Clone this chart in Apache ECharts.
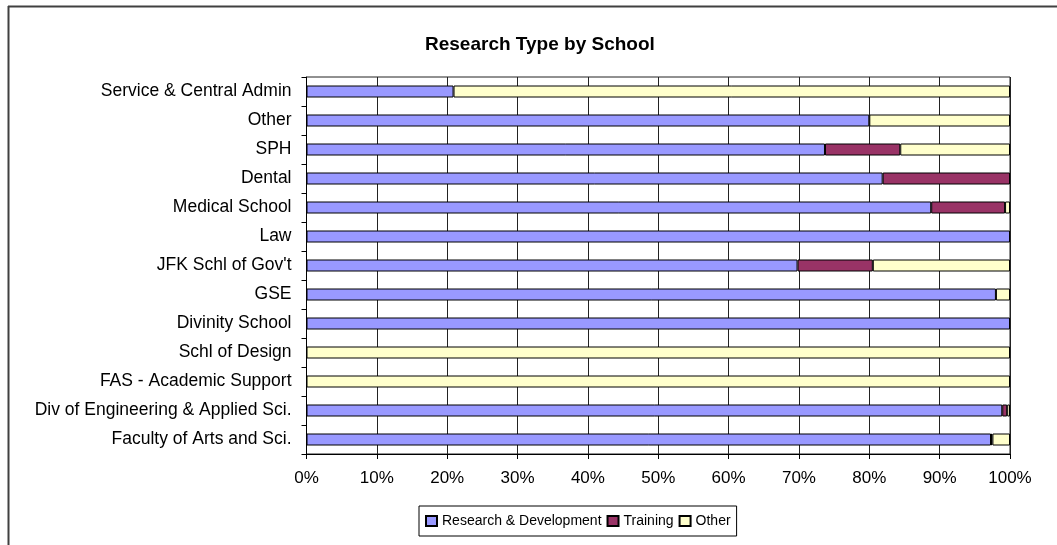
<!DOCTYPE html>
<html>
<head>
<meta charset="utf-8">
<script src="https://cdn.jsdelivr.net/npm/echarts@6/dist/echarts.min.js"></script>
<style>
html,body{margin:0;padding:0;background:#fff;}
#chart{width:1057px;height:545px;}
</style>
</head>
<body>
<div id="chart"></div>
<script>
// Categories listed bottom to top (ECharts category axis starts at the bottom)
const categories = [
  "Faculty of Arts and Sci.",
  "Div of Engineering & Applied Sci.",
  "FAS - Academic Support",
  "Schl of Design",
  "Divinity School",
  "GSE",
  "JFK Schl of Gov't",
  "Law",
  "Medical School",
  "Dental",
  "SPH",
  "Other",
  "Service & Central Admin"
];
const seriesNames = ["Research & Development", "Training", "Other"];
const researchDev = [97.3, 98.9, 0, 0, 100, 98.0, 69.8, 100, 88.8, 81.9, 73.7, 80.0, 20.9];
const training    = [0.2, 0.7, 0, 0, 0, 0, 10.7, 0, 10.5, 18.1, 10.7, 0, 0];
const other       = [2.5, 0.4, 100, 100, 0, 2.0, 19.5, 0, 0.7, 0, 15.6, 20.0, 79.1];
const xTicks = ["0%", "10%", "20%", "30%", "40%", "50%", "60%", "70%", "80%", "90%", "100%"];
const colors = ["#9999FF", "#993366", "#FFFFCC"];

const FONT = "Liberation Sans, Arial, sans-serif";
const chart = echarts.init(document.getElementById('chart'), null, {renderer: 'canvas'});

function mk(name, vals, color) {
  return {
    name: name,
    type: 'bar',
    stack: 'total',
    barWidth: 12,
    data: vals.map(v => v === 0 ? null : v),
    itemStyle: {color: color, borderColor: '#000', borderWidth: 1},
    emphasis: {disabled: true}
  };
}

chart.setOption({
  animation: false,
  backgroundColor: '#fff',
  title: {
    text: 'Research Type by School',
    left: 420,
    top: 30,
    textStyle: {fontFamily: FONT, fontSize: 19, fontWeight: 'bold', color: '#000'}
  },
  graphic: [
    {type: 'line', shape: {x1: 8, y1: 6.5, x2: 1057, y2: 6.5}, style: {stroke: '#404040', lineWidth: 2}},
    {type: 'line', shape: {x1: 8.5, y1: 6, x2: 8.5, y2: 545}, style: {stroke: '#404040', lineWidth: 2}}
  ],
  legend: {
    data: seriesNames,
    left: 419,
    top: 506,
    orient: 'horizontal',
    padding: [8, 6, 8, 6],
    borderColor: '#000',
    borderWidth: 1,
    itemWidth: 11,
    itemHeight: 10,
    itemGap: 5,
    icon: 'rect',
    textStyle: {fontFamily: FONT, fontSize: 14, color: '#000', padding: [0, 0, 0, 0]}
  },
  grid: {
    left: 306.5,
    right: 47,
    top: 77,
    bottom: 91,
    show: true,
    borderColor: '#222',
    borderWidth: 1,
    containLabel: false
  },
  xAxis: {
    type: 'value',
    min: 0,
    max: 100,
    interval: 10,
    axisLine: {show: true, lineStyle: {color: '#000', width: 1}},
    axisTick: {show: true, length: 5, inside: false, lineStyle: {color: '#000'}},
    splitLine: {show: true, lineStyle: {color: '#222', width: 1}},
    axisLabel: {
      margin: 16,
      fontFamily: FONT, fontSize: 17, color: '#000',
      formatter: function (v) { return xTicks[Math.round(v / 10)]; }
    }
  },
  yAxis: {
    type: 'category',
    data: categories,
    axisLine: {show: true, lineStyle: {color: '#000', width: 1}},
    axisTick: {show: true, length: 5, inside: false, lineStyle: {color: '#000'}},
    axisLabel: {margin: 15, fontFamily: FONT, fontSize: 17.5, color: '#000'}
  },
  series: [
    mk(seriesNames[0], researchDev, colors[0]),
    mk(seriesNames[1], training, colors[1]),
    mk(seriesNames[2], other, colors[2])
  ]
});
</script>
</body>
</html>
